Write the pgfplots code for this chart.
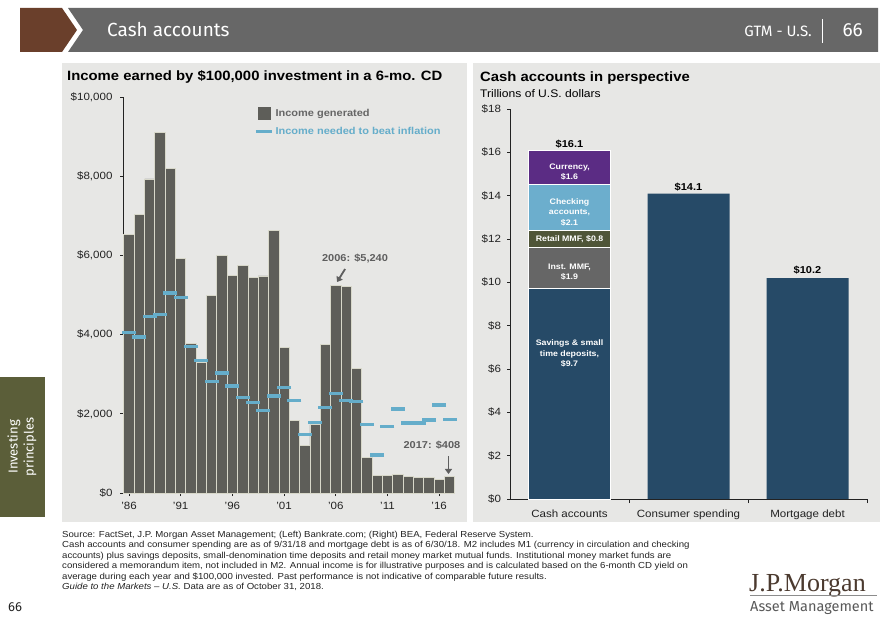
\documentclass[border=0pt]{standalone}
\usepackage{fontspec}
\setmainfont{Liberation Sans}[FakeStretch=1.1]
\newfontfamily\condfont{Fira Sans}
\newfontfamily\logofont{Liberation Serif}
\usepackage{pgfplots}
\usepackage{pgfplotstable}
\pgfplotsset{compat=1.18}
\usetikzlibrary{arrows.meta}

\definecolor{panel}{HTML}{E7E7E5}
\definecolor{barc}{HTML}{5E5E59}
\definecolor{barsep}{HTML}{D8D8CA}
\definecolor{inflc}{HTML}{65ADCA}
\definecolor{annc}{HTML}{5E5E5E}
\definecolor{navy}{HTML}{264A67}
\definecolor{instgray}{HTML}{666666}
\definecolor{retailc}{HTML}{4F5538}
\definecolor{checkc}{HTML}{6CAECD}
\definecolor{currc}{HTML}{5B2C84}
\definecolor{tabc}{HTML}{5B5E39}
\definecolor{brownc}{HTML}{6A3F2B}
\definecolor{headc}{HTML}{676767}
\definecolor{axisc}{HTML}{222222}
\definecolor{textc}{HTML}{222222}
\definecolor{logoc}{HTML}{4B3A2F}

\pgfplotstableread{
year income infl
1986 6520 4060
1987 7030 3940
1988 7930 4450
1989 9110 4500
1990 8200 5050
1991 5920 4930
1992 3780 3690
1993 3300 3340
1994 4990 2825
1995 6000 3030
1996 5490 2700
1997 5750 2405
1998 5450 2290
1999 5480 2080
2000 6620 2450
2001 3680 2660
2002 1830 2330
2003 1200 1470
2004 1720 1785
2005 3750 2160
2006 5240 2520
2007 5220 2340
2008 3150 2305
2009 890 1720
2010 440 960
2011 440 1670
2012 460 2120
2013 420 1770
2014 390 1770
2015 390 1845
2016 350 2220
2017 408 1850
}\cdtable

\begin{document}
\begin{tikzpicture}[x=1pt,y=1pt]
\useasboundingbox (0,0) rectangle (885,-620);
\fill[white] (0,0) rectangle (885,-620);
% header
\fill[brownc] (20,-8) -- (62,-8) -- (77,-30) -- (62,-52) -- (20,-52) -- cycle;
\fill[headc] (68,-8) -- (878,-8) -- (878,-52) -- (68,-52) -- (83,-30) -- cycle;
\node[anchor=west, text=white, inner sep=0pt, font=\condfont\fontsize{19}{22}\selectfont] at (107,-30) {Cash accounts};
\node[anchor=east, text=white, inner sep=0pt, font=\condfont\fontsize{15}{18}\selectfont] at (812,-31) {GTM - U.S.};
\draw[white, line width=1pt] (822,-19) -- (822,-43);
\node[anchor=east, text=white, inner sep=0pt, font=\condfont\fontsize{19}{22}\selectfont] at (863,-30) {66};
% panels
\fill[panel] (62,-63) rectangle (467,-522);
\fill[panel] (473,-63) rectangle (880,-522);
% side tab
\fill[tabc] (0,-377) rectangle (45,-517);
\node[rotate=90, text=white, align=center, inner sep=0pt, font=\condfont\fontsize{13}{16}\selectfont] at (22,-447) {Investing\\principles};
% titles
\node[anchor=base west, inner sep=0pt, font=\bfseries\fontsize{13.5}{16}\selectfont] at (67,-81) {Income earned by \$100,000 investment in a 6-mo. CD};
\node[anchor=base west, inner sep=0pt, font=\bfseries\fontsize{13.5}{16}\selectfont] at (480,-81.5) {Cash accounts in perspective};
\node[anchor=base west, inner sep=0pt, font=\fontsize{11}{13}\selectfont] at (480,-97.5) {Trillions of U.S. dollars};

% LEFT CHART
\begin{axis}[
  at={(123pt,-493pt)}, anchor=south west,
  scale only axis, width=332pt, height=396pt,
  xmin=1985.42, xmax=2017.53, ymin=0, ymax=10000,
  scaled y ticks=false, scaled x ticks=false,
  axis lines=left, axis line style={-, draw=axisc, line width=0.7pt},
  tick align=outside, major tick length=3pt,
  tick style={draw=axisc, line width=0.7pt},
  xtick={1986,1991,1996,2001,2006,2011,2016},
  xticklabels={'86,'91,'96,'01,'06,'11,'16},
  ytick={0,2000,4000,6000,8000,10000},
  yticklabels={\$0,{\$2,000},{\$4,000},{\$6,000},{\$8,000},{\$10,000}},
  ticklabel style={font=\fontsize{10.5}{12}\selectfont, text=textc},
  yticklabel style={xshift=-4pt},
  xticklabel style={yshift=-3pt},
  clip=false,
  legend style={at={(0.395,0.975)}, anchor=north west, draw=none, fill=none,
    inner sep=0pt, row sep=5pt, font=\bfseries\fontsize{10}{12}\selectfont,
    /tikz/every even column/.append style={column sep=5pt}},
  legend cell align=left,
]
\addplot[ybar, bar width=10.34pt, fill=barc, draw=barsep, line width=0.8pt,
  legend image code/.code={\fill[barc] (0pt,-6pt) rectangle (12pt,6pt);}]
  table[x=year,y=income]{\cdtable};
\addlegendentry{\textcolor{instgray}{Income generated}}
\addplot[only marks, mark=-, mark size=7pt, color=inflc, mark options={line width=3.2pt},
  legend image code/.code={\draw[inflc, line width=3.2pt] (-2pt,0pt) -- (14pt,0pt);}]
  table[x=year,y=infl]{\cdtable};
\addlegendentry{\textcolor{inflc}{Income needed to beat inflation}}
\node[font=\bfseries\fontsize{10}{12}\selectfont, text=annc] at (axis cs:2007.86,5909) {2006: \$5,240};
\draw[-{Triangle[length=5pt,width=7pt]}, annc, line width=1.8pt] (axis cs:2006.9,5657) -- (axis cs:2006.12,5328);
\node[font=\bfseries\fontsize{10}{12}\selectfont, text=annc] at (axis cs:2015.3,1212) {2017: \$408};
\draw[-{Triangle[length=5pt,width=7pt]}, annc, line width=1.8pt] (axis cs:2016.9,934) -- (axis cs:2016.9,480);
\end{axis}

% RIGHT CHART: plain bars (hidden axis)
\begin{axis}[
  at={(510pt,-499pt)}, anchor=south west,
  scale only axis, width=357pt, height=390pt,
  xmin=-0.5, xmax=2.5, ymin=0, ymax=18,
  hide axis, clip=false,
]
\addplot[ybar, bar width=82pt, fill=navy, draw=none] coordinates {(1,14.1) (2,10.2)};
\end{axis}
% RIGHT CHART: stacked bar with axis
\begin{axis}[
  at={(510pt,-499pt)}, anchor=south west,
  scale only axis, width=357pt, height=390pt,
  xmin=-0.5, xmax=2.5, ymin=0, ymax=18,
  ybar stacked, bar width=82pt,
  axis lines=left, axis line style={-, draw=axisc, line width=0.7pt},
  tick align=outside, major tick length=3pt, minor tick length=4pt,
  tick style={draw=axisc, line width=0.7pt},
  xtick={0,1,2},
  xticklabels={Cash accounts,Consumer spending,Mortgage debt},
  major x tick style={draw=none},
  minor xtick={0.5,1.5,2.5},
  ytick={0,2,4,6,8,10,12,14,16,18},
  yticklabels={\$0,\$2,\$4,\$6,\$8,\$10,\$12,\$14,\$16,\$18},
  yticklabel style={font=\fontsize{10.5}{12}\selectfont, text=textc, xshift=-2.5pt},
  xticklabel style={font=\fontsize{10.5}{12}\selectfont, text=textc, yshift=-4pt},
  clip=false,
]
\addplot[fill=navy, draw=white, line width=1pt] coordinates {(0,9.7)};
\addplot[fill=instgray, draw=white, line width=1pt] coordinates {(0,1.9)};
\addplot[fill=retailc, draw=white, line width=1pt] coordinates {(0,0.8)};
\addplot[fill=checkc, draw=white, line width=1pt] coordinates {(0,2.1)};
\addplot[fill=currc, draw=white, line width=1pt] coordinates {(0,1.6)};
\end{axis}
% RIGHT CHART: labels on top
\begin{axis}[
  at={(510pt,-499pt)}, anchor=south west,
  scale only axis, width=357pt, height=390pt,
  xmin=-0.5, xmax=2.5, ymin=0, ymax=18,
  hide axis, clip=false,
]
\node[align=center, text=white, font=\bfseries\fontsize{8}{10.5}\selectfont] at (axis cs:0,6.70) {Savings \& small\\time deposits,\\\$9.7};
\node[align=center, text=white, font=\bfseries\fontsize{8}{10.5}\selectfont] at (axis cs:0,10.48) {Inst. MMF,\\\$1.9};
\node[align=center, text=white, font=\bfseries\fontsize{8}{10.5}\selectfont] at (axis cs:0,12.0) {Retail MMF, \$0.8};
\node[align=center, text=white, font=\bfseries\fontsize{8}{10.5}\selectfont] at (axis cs:0,13.24) {Checking\\accounts,\\\$2.1};
\node[align=center, text=white, font=\bfseries\fontsize{8}{10.5}\selectfont] at (axis cs:0,15.09) {Currency,\\\$1.6};
\node[font=\bfseries\fontsize{10}{12}\selectfont, text=black] at (axis cs:1,14.40) {\$14.1};
\node[font=\bfseries\fontsize{10}{12}\selectfont, text=black] at (axis cs:2,10.57) {\$10.2};
\node[font=\bfseries\fontsize{10}{12}\selectfont, text=black] at (axis cs:0,16.38) {\$16.1};
\end{axis}

% footer
\begin{scope}[every node/.style={anchor=base west, inner sep=0pt, font=\fontsize{8.75}{10}\selectfont, text=textc}]
\node at (62,-537.5) {Source: FactSet, J.P. Morgan Asset Management; (Left) Bankrate.com; (Right) BEA, Federal Reserve System.};
\node at (62,-547.9) {Cash accounts and consumer spending are as of 9/31/18 and mortgage debt is as of 6/30/18. M2 includes M1 (currency in circulation and checking};
\node at (62,-558.3) {accounts) plus savings deposits, small-denomination time deposits and retail money market mutual funds. Institutional money market funds are};
\node at (62,-568.7) {considered a memorandum item, not included in M2. Annual income is for illustrative purposes and is calculated based on the 6-month CD yield on};
\node at (62,-579.1) {average during each year and \$100,000 invested. Past performance is not indicative of comparable future results.};
\node at (62,-589.5) {\textit{Guide to the Markets -- U.S.} Data are as of October 31, 2018.};
\end{scope}
\node[anchor=base west, inner sep=0pt, text=textc, font=\condfont\fontsize{13}{15}\selectfont] at (8,-611) {66};
% logo
\node[anchor=base west, inner sep=0pt, text=logoc, font=\logofont\fontsize{26}{30}\selectfont] at (749,-591) {J.P.Morgan};
\draw[black!45, line width=0.8pt] (750,-595) -- (877,-595);
\node[anchor=base west, inner sep=0pt, text=black!65, font=\condfont\fontsize{14.5}{17}\selectfont] at (750,-611) {Asset Management};
\end{tikzpicture}
\end{document}
